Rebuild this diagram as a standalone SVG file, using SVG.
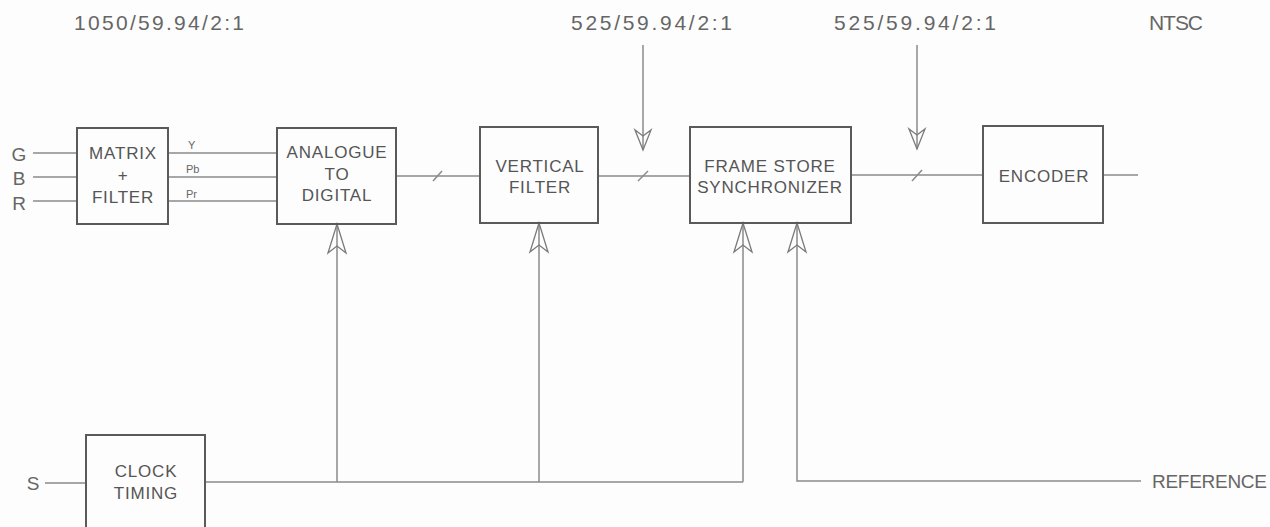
<svg xmlns="http://www.w3.org/2000/svg" xmlns:xlink="http://www.w3.org/1999/xlink" width="1270" height="527" viewBox="0 0 1270 527">
<style>
.box{fill:none;stroke:#5a5a5a;stroke-width:2}
.ln{fill:none;stroke:#8a8a8a;stroke-width:1.5}
.ah{fill:none;stroke:#7a7a7a;stroke-width:1.3;stroke-linejoin:miter}
.t{font-family:"Liberation Sans",Arial,sans-serif;fill:#555;font-size:17px;letter-spacing:0.8px;text-anchor:middle}
.o{font-family:"Liberation Sans",Arial,sans-serif;fill:#666;font-size:19px}
.tp{font-family:"Liberation Sans",Arial,sans-serif;fill:#666;font-size:21px}
.s{font-family:"Liberation Sans",Arial,sans-serif;fill:#666;font-size:11px}
</style>
<defs>
<path id="up" class="ah" d="M-9 29 L0 0 L9 29 L0 22 Z"/>
<path id="dn" class="ah" d="M-8 -20 L0 0 L8 -20 L0 -14 Z"/>
</defs>
<rect width="1270" height="527" fill="#fdfdfd"/>

<g id="top-labels">
<text class="tp" x="74" y="30" textLength="170" lengthAdjust="spacing">1050/59.94/2:1</text>
<text class="tp" x="571" y="30" textLength="161" lengthAdjust="spacing">525/59.94/2:1</text>
<text class="tp" x="834" y="30" textLength="162" lengthAdjust="spacing">525/59.94/2:1</text>
<text class="tp" x="1149" y="30" textLength="54" lengthAdjust="spacing">NTSC</text>
</g>

<g id="inputs">
<text class="o" x="19" y="161" text-anchor="middle">G</text>
<text class="o" x="19" y="185" text-anchor="middle">B</text>
<text class="o" x="19" y="210" text-anchor="middle">R</text>
<text class="o" x="33" y="490" text-anchor="middle">S</text>
<text class="o" x="1152" y="488" textLength="115" lengthAdjust="spacing">REFERENCE</text>
</g>

<g id="connectors">
<line class="ln" x1="33" y1="153" x2="77" y2="153"/>
<line class="ln" x1="33" y1="177" x2="77" y2="177"/>
<line class="ln" x1="33" y1="201" x2="77" y2="201"/>
<line class="ln" x1="168" y1="153" x2="277" y2="153"/>
<line class="ln" x1="168" y1="177" x2="277" y2="177"/>
<line class="ln" x1="168" y1="201" x2="277" y2="201"/>
<text class="s" x="188" y="149">Y</text>
<text class="s" x="186" y="173">Pb</text>
<text class="s" x="186" y="198">Pr</text>
<line class="ln" x1="396" y1="176" x2="480" y2="176"/>
<line class="ln" x1="433" y1="181" x2="442" y2="171"/>
<line class="ln" x1="598" y1="176" x2="690" y2="176"/>
<line class="ln" x1="638" y1="181" x2="648" y2="171"/>
<line class="ln" x1="851" y1="175" x2="983" y2="175"/>
<line class="ln" x1="912" y1="181" x2="922" y2="170"/>
<line class="ln" x1="1103" y1="175" x2="1138" y2="175"/>
<line class="ln" x1="643" y1="45" x2="643" y2="150"/>
<use xlink:href="#dn" x="643" y="150"/>
<line class="ln" x1="917" y1="45" x2="917" y2="149"/>
<use xlink:href="#dn" x="917" y="149"/>
<line class="ln" x1="45" y1="483" x2="86" y2="483"/>
<line class="ln" x1="205" y1="482" x2="743" y2="482"/>
<line class="ln" x1="337" y1="482" x2="337" y2="224"/>
<use xlink:href="#up" x="337" y="224"/>
<line class="ln" x1="539" y1="482" x2="539" y2="223"/>
<use xlink:href="#up" x="539" y="223"/>
<line class="ln" x1="743" y1="482" x2="743" y2="223"/>
<use xlink:href="#up" x="743" y="223"/>
<polyline class="ln" points="1141,481 797,481 797,223"/>
<use xlink:href="#up" x="797" y="223"/>
</g>

<g id="matrix">
<rect class="box" x="77" y="128" width="91" height="96"/>
<text class="t" x="123" y="159">MATRIX</text>
<text class="t" x="123" y="181">+</text>
<text class="t" x="123" y="203">FILTER</text>
</g>

<g id="adc">
<rect class="box" x="277" y="128" width="119" height="96"/>
<text class="t" x="337" y="158">ANALOGUE</text>
<text class="t" x="337" y="180">TO</text>
<text class="t" x="337" y="201">DIGITAL</text>
</g>

<g id="vfilter">
<rect class="box" x="480" y="127" width="118" height="96"/>
<text class="t" x="540" y="172">VERTICAL</text>
<text class="t" x="540" y="193">FILTER</text>
</g>

<g id="framestore">
<rect class="box" x="690" y="127" width="161" height="96"/>
<text class="t" x="770" y="172">FRAME STORE</text>
<text class="t" x="770" y="193">SYNCHRONIZER</text>
</g>

<g id="encoder">
<rect class="box" x="983" y="126" width="120" height="97"/>
<text class="t" x="1044" y="182">ENCODER</text>
</g>

<g id="clock">
<rect class="box" x="86" y="435" width="119" height="110"/>
<text class="t" x="146" y="477">CLOCK</text>
<text class="t" x="146" y="499">TIMING</text>
</g>
</svg>
